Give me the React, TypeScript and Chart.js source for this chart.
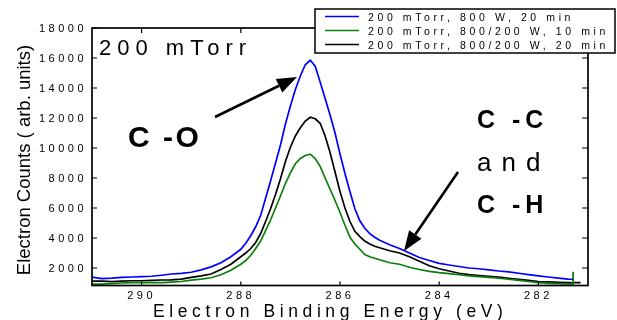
import React, { useEffect, useRef } from "react";
import { Chart, registerables } from "chart.js";

Chart.register(...registerables);

// ---- data ----
const energy = [
  291.0, 290.8, 290.6, 290.4, 290.2, 290.0, 289.8, 289.6, 289.4, 289.2,
  289.0, 288.8, 288.6, 288.4, 288.2, 288.0,
  287.9, 287.8, 287.7, 287.6, 287.5, 287.4, 287.3, 287.2, 287.1, 287.0,
  286.9, 286.8, 286.7, 286.6, 286.5, 286.4, 286.3, 286.2, 286.1, 286.0,
  285.9, 285.8, 285.7, 285.6, 285.5, 285.4, 285.3,
  285.2, 285.0, 284.8, 284.6, 284.4, 284.2, 284.0, 283.8, 283.6, 283.4,
  283.2, 283.0, 282.8, 282.6, 282.4, 282.2, 282.0, 281.8, 281.6, 281.4,
  281.3, 281.3, 281.2, 281.15,
];

const blue800W20 = [
  1400, 1300, 1330, 1380, 1400, 1420, 1450, 1520, 1600, 1640,
  1720, 1880, 2080, 2350, 2750, 3250,
  3650, 4150, 4750, 5500, 6650, 7800, 9000, 10200, 11600, 12800,
  13900, 14800, 15550, 15850, 15450, 14400, 13300, 12200, 11000, 9600,
  8300, 7100, 5950, 5150, 4650, 4290, 4050,
  3850, 3550, 3300, 3000, 2700, 2500, 2310, 2200, 2100, 2000,
  1950, 1880, 1800, 1740, 1650, 1560, 1480, 1400, 1330, 1260,
  1250, 1250, null, null,
];

const green800_200W10 = [
  930, 930, 960, 1000, 1020, 1020, 1020, 1030, 1060, 1100,
  1190, 1260, 1350, 1550, 1850, 2250,
  2500, 2850, 3300, 3800, 4500, 5200, 6000, 6800, 7650, 8350,
  8950, 9300, 9500, 9590, 9300, 8780, 8000, 7250, 6500, 5700,
  4850, 4050, 3600, 3250, 2900, 2750, 2650,
  2550, 2350, 2250, 2050, 1900, 1780, 1690, 1630, 1550, 1480,
  1430, 1380, 1320, 1250, 1180, 1100, 1030, 980, 950, 940,
  930, 1750, null, null,
];

const black800_200W20 = [
  1130, 1130, 1100, 1130, 1150, 1150, 1180, 1200, 1210, 1260,
  1380, 1480, 1600, 1900, 2250, 2750,
  3000, 3300, 3700, 4300, 5100, 5950, 6900, 7950, 9100, 10050,
  10800, 11350, 11800, 12050, 11950, 11650, 10800, 9700, 8400, 7100,
  6000, 5100, 4450, 4100, 3800, 3600, 3450,
  3350, 3150, 3000, 2750, 2450, 2150, 1950, 1800, 1650, 1560,
  1500, 1450, 1400, 1320, 1250, 1180, 1100, 1080, 1050, 1030,
  1020, 1020, 1020, 1020,
];

const seriesLabels = [
  "200 mTorr, 800 W, 20 min",
  "200 mTorr, 800/200 W, 10 min",
  "200 mTorr, 800/200 W, 20 min",
];
const seriesColors = ["#0000ff", "#0a800a", "#000000"];

const xTicks = [290, 288, 286, 284, 282];
const yTicks = [2000, 4000, 6000, 8000, 10000, 12000, 14000, 16000, 18000];

const xTitle = "Electron Binding Energy (eV)";
const yTitle = "Electron Counts ( arb. units)";
const panelLabel = "200 mTorr";
const coLabel = "C -O";
const ccLabel = "C -C";
const andLabel = "and";
const chLabel = "C -H";

const FONT = "'Liberation Sans', Arial, Helvetica, sans-serif";

function arrow(ctx: CanvasRenderingContext2D, x1: number, y1: number, x2: number, y2: number) {
  const ang = Math.atan2(y2 - y1, x2 - x1);
  const headLen = 20;
  const headW = 7.5;
  const bx = x2 - headLen * Math.cos(ang);
  const by = y2 - headLen * Math.sin(ang);
  ctx.beginPath();
  ctx.lineWidth = 2.6;
  ctx.moveTo(x1, y1);
  ctx.lineTo(bx, by);
  ctx.stroke();
  ctx.beginPath();
  ctx.moveTo(x2, y2);
  ctx.lineTo(bx + headW * Math.sin(ang), by - headW * Math.cos(ang));
  ctx.lineTo(bx - headW * Math.sin(ang), by + headW * Math.cos(ang));
  ctx.closePath();
  ctx.fill();
}

const decorPlugin = {
  id: "decor",
  afterDraw(chart: any) {
    const { ctx, chartArea: a, scales } = chart;
    const x = scales.x;
    const y = scales.y;
    ctx.save();
    ctx.strokeStyle = "#000";
    ctx.fillStyle = "#000";

    // frame
    ctx.lineWidth = 1.7;
    ctx.strokeRect(a.left, a.top, a.right - a.left, a.bottom - a.top);

    // inward ticks
    ctx.lineWidth = 1.2;
    ctx.beginPath();
    yTicks.forEach((v) => {
      const py = y.getPixelForValue(v);
      ctx.moveTo(a.left, py);
      ctx.lineTo(a.left + 5, py);
      ctx.moveTo(a.right, py);
      ctx.lineTo(a.right - 6, py);
    });
    xTicks.forEach((v) => {
      const px = x.getPixelForValue(v);
      ctx.moveTo(px, a.bottom);
      ctx.lineTo(px, a.bottom - 4);
      ctx.moveTo(px, a.top);
      ctx.lineTo(px, a.top + 5);
    });
    ctx.stroke();

    // tick labels
    ctx.font = `11px ${FONT}`;
    (ctx as any).letterSpacing = "3.5px";
    ctx.textBaseline = "alphabetic";
    ctx.textAlign = "right";
    yTicks.forEach((v) => {
      const py = y.getPixelForValue(v);
      ctx.fillText(String(v), a.left - 5, py + 4);
    });
    ctx.textAlign = "center";
    xTicks.forEach((v) => {
      const px = x.getPixelForValue(v);
      ctx.fillText(String(v), px, a.bottom + 13);
    });

    // x title
    ctx.font = `17.5px ${FONT}`;
    (ctx as any).letterSpacing = "4.6px";
    ctx.textAlign = "left";
    ctx.fillText(xTitle, 153, 317);

    // y title
    ctx.save();
    ctx.translate(29.5, 160);
    ctx.rotate(-Math.PI / 2);
    ctx.font = `18.5px ${FONT}`;
    (ctx as any).letterSpacing = "0px";
    ctx.textAlign = "center";
    ctx.fillText(yTitle, 0, 0);
    ctx.restore();

    // panel label
    ctx.font = `22px ${FONT}`;
    (ctx as any).letterSpacing = "6px";
    ctx.textAlign = "left";
    ctx.fillText(panelLabel, 99, 55);

    // C-O label
    ctx.font = `bold 30px ${FONT}`;
    (ctx as any).letterSpacing = "2.5px";
    ctx.fillText(coLabel, 128, 147);

    // C-C / and / C-H
    ctx.font = `bold 25px ${FONT}`;
    (ctx as any).letterSpacing = "5px";
    ctx.fillText(ccLabel, 477, 128);
    ctx.fillText(chLabel, 477, 213);
    ctx.font = `26px ${FONT}`;
    (ctx as any).letterSpacing = "10px";
    ctx.fillText(andLabel, 477, 171);
    (ctx as any).letterSpacing = "0px";

    // arrows
    arrow(ctx, 215, 117, 297, 77);
    arrow(ctx, 458, 172, 404, 251);

    // legend box
    const lx = 315, ly = 9, lw = 300, lh = 44;
    ctx.fillStyle = "#fff";
    ctx.fillRect(lx, ly, lw, lh);
    ctx.strokeStyle = "#000";
    ctx.lineWidth = 1.5;
    ctx.strokeRect(lx, ly, lw, lh);
    ctx.font = `10.5px ${FONT}`;
    (ctx as any).letterSpacing = "3.6px";
    ctx.textAlign = "left";
    seriesLabels.forEach((lab, i) => {
      const ry = 16.5 + i * 14;
      ctx.strokeStyle = seriesColors[i];
      ctx.lineWidth = 1.6;
      ctx.beginPath();
      ctx.moveTo(325, ry);
      ctx.lineTo(359, ry);
      ctx.stroke();
      ctx.fillStyle = "#000";
      ctx.fillText(lab, 368, ry + 4);
    });
    ctx.restore();
  },
};

export default function App() {
  const ref = useRef<HTMLCanvasElement | null>(null);
  useEffect(() => {
    if (!ref.current) return;
    const mk = (vals: (number | null)[]) =>
      energy.map((e, i) => ({ x: e, y: vals[i] }));
    const chart = new Chart(ref.current, {
      type: "line",
      data: {
        datasets: [
          { label: seriesLabels[0], data: mk(blue800W20), borderColor: seriesColors[0] },
          { label: seriesLabels[1], data: mk(green800_200W10), borderColor: seriesColors[1] },
          { label: seriesLabels[2], data: mk(black800_200W20), borderColor: seriesColors[2] },
        ].map((d) => ({ ...d, borderWidth: 1.7, pointRadius: 0, tension: 0, fill: false, spanGaps: false })) as any,
      },
      options: {
        animation: false,
        responsive: true,
        maintainAspectRatio: false,
        layout: { padding: { left: 92, top: 28, right: 29, bottom: 34.5 } },
        plugins: { legend: { display: false }, tooltip: { enabled: false } },
        scales: {
          x: { type: "linear", reverse: true, min: 281, max: 291, display: false },
          y: { type: "linear", min: 835, max: 18000, display: false },
        },
      },
      plugins: [decorPlugin],
    });
    return () => chart.destroy();
  }, []);
  return (
    <div style={{ position: "fixed", left: 0, top: 0, width: 617, height: 320, background: "#fff" }}>
      <canvas ref={ref} />
    </div>
  );
}
